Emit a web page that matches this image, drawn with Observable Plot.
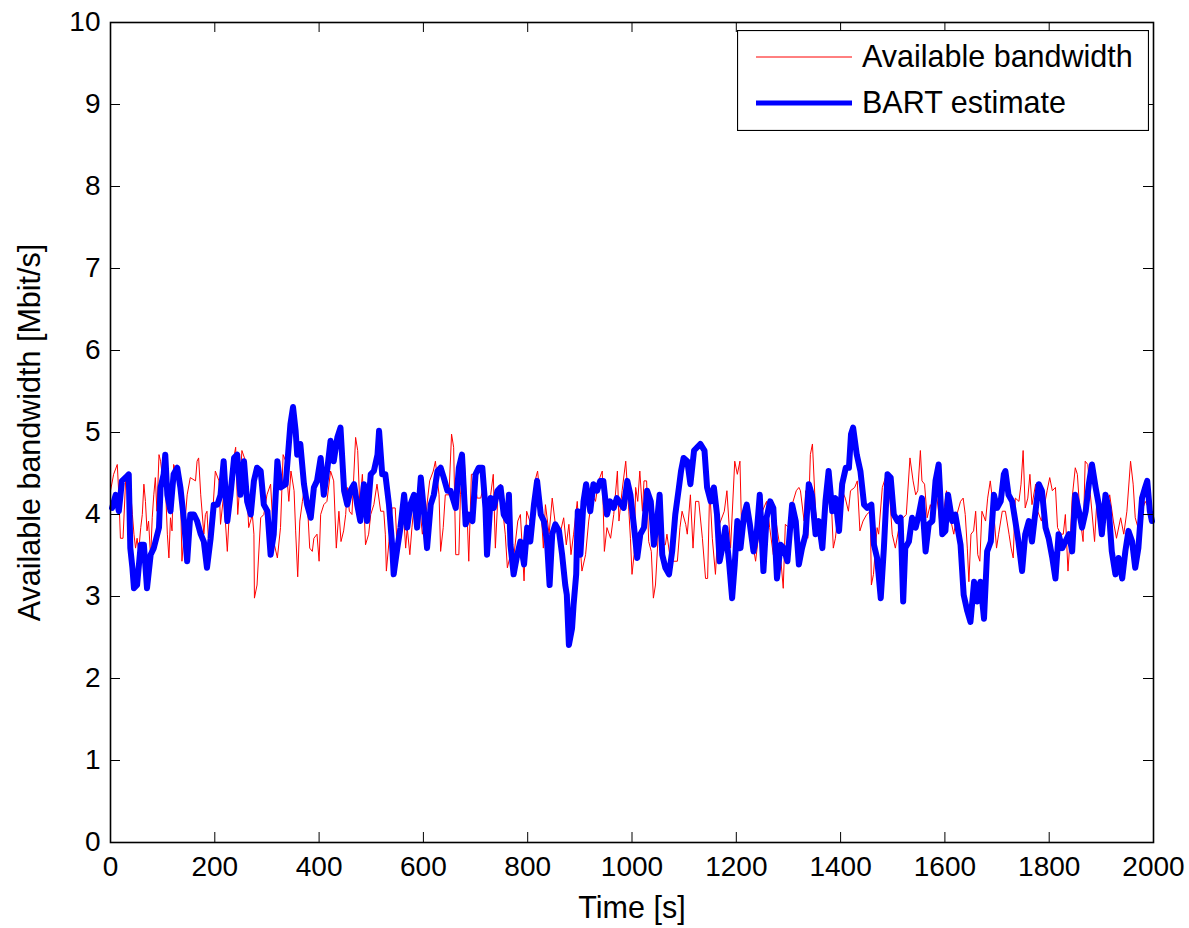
<!DOCTYPE html>
<html><head><meta charset="utf-8">
<script src="https://cdn.jsdelivr.net/npm/d3@7"></script>
<script src="https://cdn.jsdelivr.net/npm/@observablehq/plot@0.6"></script>
<style>
body{margin:0;background:#fff}
#wrap{position:relative;width:1189px;height:928px}
#legend{position:absolute;left:737px;top:30px}
</style>
</head><body><div id="wrap"></div>
<script>
const xTicks = [0,200,400,600,800,1000,1200,1400,1600,1800,2000];
const yTicks = [0,1,2,3,4,5,6,7,8,9,10];
const seriesNames = ["Available bandwidth", "BART estimate"];
const xLabel = "Time [s]";
const yLabel = "Available bandwidth [Mbit/s]";

// [time (s), available bandwidth (Mbit/s)]
const availableBandwidth = [
[0,4.29],[6,4.49],[13,4.61],[16,4.24],[19,3.71],[24,3.71],[29,4.41],[38,4.33],[42,4.0],[45,3.76],
[48,3.59],[51,3.71],[54,3.55],[58,3.84],[61,4.0],[64,4.37],[67,4.16],[70,3.80],[73,3.92],[77,3.47],
[80,3.96],[83,4.24],[86,4.45],[89,4.04],[93,4.73],[96,4.65],[99,4.49],[105,4.41],[109,3.76],[112,3.47],
[115,3.96],[118,3.80],[121,4.61],[128,4.53],[134,4.33],[137,3.43],[141,3.76],[147,4.24],[153,4.45],[163,4.41],
[166,4.65],[169,4.69],[173,4.24],[179,3.76],[182,4.0],[185,4.04],[189,3.55],[195,3.92],[201,4.53],[208,4.41],
[211,3.88],[217,4.24],[224,3.55],[227,3.92],[233,4.57],[240,4.82],[244,4.0],[249,4.45],[252,4.78],[259,4.65],
[265,3.84],[272,4.0],[275,3.76],[276,2.98],[281,3.14],[288,3.96],[294,4.0],[300,4.24],
[307,4.37],[313,3.67],[320,3.47],[326,3.84],[331,4.73],[336,4.65],[342,4.16],[346,4.53],[352,4.29],[355,3.80],
[359,3.24],[363,3.92],[368,4.16],[371,4.29],[377,4.20],[382,3.59],[387,3.55],[390,3.71],[396,3.76],[400,3.43],
[403,4.0],[409,4.12],[415,4.16],[422,4.53],[428,4.41],[433,3.59],[438,4.04],[442,3.67],[447,3.80],[451,4.0],
[454,4.33],[458,4.04],[463,4.0],[470,4.94],[474,4.78],[478,4.12],[483,4.49],[486,4.12],[489,3.63],[495,3.76],
[499,4.0],[505,4.12],[511,4.37],[518,4.04],[524,4.04],[527,3.76],[529,3.31],[534,3.67],[540,4.08],[546,4.08],
[550,3.55],[556,3.71],[562,4.0],[566,3.59],[569,3.84],[574,3.51],[578,3.84],[583,4.16],[588,3.92],[591,4.24],
[598,3.76],[604,3.96],[612,4.41],[619,4.53],[623,4.65],[630,4.24],
[633,3.55],[638,3.84],[642,4.24],[649,4.24],[654,4.98],[658,4.82],[662,3.51],[668,3.51],[671,4.24],[678,4.73],
[684,3.96],[687,3.43],[692,4.49],[697,4.49],[703,4.20],[710,4.20],[716,4.37],[722,3.92],[729,4.24],[734,4.49],
[738,3.59],[743,4.24],[748,4.37],[753,4.0],[757,3.76],[761,3.35],[767,3.51],[773,3.47],[781,3.92],[786,4.0],
[793,3.19],[798,4.04],[804,3.92],[809,3.84],[814,4.41],[819,4.53],[825,4.12],[830,3.59],[834,4.12],[841,3.76],
[847,4.20],[853,3.88],[860,3.71],[869,3.96],[874,3.63],[879,3.88],[883,3.51],[888,3.76],[895,4.16],[900,3.67],
[904,3.31],[911,3.51],[917,3.92],[924,4.24],[930,4.16],[936,4.41],[943,4.53],[947,3.55],[952,3.84],[959,3.71],
[965,4.0],[972,4.53],[975,3.92],[981,4.29],[988,4.65],[994,4.04],[997,3.71],[1000,3.27],[1004,3.51],[1007,4.33],
[1011,4.16],[1015,4.53],[1020,4.04],[1023,4.41],[1028,4.41],[1032,3.67],[1037,3.55],[1041,2.98],[1045,3.14],[1051,3.84],
[1058,3.63],[1064,3.63],[1067,3.76],[1074,3.43],[1079,3.43],[1087,3.43],[1092,3.84],[1096,4.04],[1103,3.88],[1106,3.76],
[1112,4.24],[1117,3.59],[1122,4.16],[1128,4.16],[1135,3.71],[1141,3.22],[1145,3.22],[1149,4.33],[1154,3.71],[1160,3.27],
[1165,3.84],[1170,3.92],[1177,4.04],[1182,4.29],[1189,3.59],[1197,4.65],[1202,4.49],[1207,4.65],[1211,3.59],[1218,4.12],
[1224,3.92],[1230,3.71],[1237,3.43],[1243,3.76],[1250,4.04],[1258,4.16],[1264,3.84],[1271,3.51],[1277,3.88],[1283,3.63],
[1290,3.10],[1294,3.88],[1301,3.84],[1307,4.12],[1315,4.29],[1320,4.33],[1323,4.29],[1330,3.92],[1333,4.29],[1337,3.71],
[1342,4.73],[1346,4.86],[1352,4.04],[1360,3.67],[1367,3.96],[1374,4.08],[1381,4.33],[1386,3.59],[1390,3.71],[1397,4.12],
[1403,4.29],[1409,4.20],[1415,4.04],[1419,4.29],[1427,4.33],[1432,4.41],[1437,3.80],[1443,3.92],[1450,4.0],[1457,4.04],
[1459,3.14],[1463,3.27],[1470,3.84],[1473,3.76],[1480,4.33],[1486,4.45],[1493,4.33],[1499,3.76],[1505,3.59],[1514,3.92],
[1520,3.96],[1526,4.0],[1533,4.69],[1539,4.41],[1544,4.24],[1548,4.29],[1553,4.78],[1556,4.41],[1561,4.37],[1566,3.96],
[1572,4.12],[1578,3.96],[1584,4.24],[1590,3.92],[1597,4.0],[1603,4.29],[1609,4.0],
[1617,3.76],[1623,4.0],[1630,4.16],[1635,4.20],[1639,4.0],[1643,3.59],[1646,3.18],[1650,3.76],[1655,3.80],[1659,4.04],
[1663,3.51],[1667,3.43],[1671,4.04],[1678,3.92],[1682,4.20],[1687,4.41],[1693,4.08],[1699,3.59],[1703,3.76],[1710,4.04],
[1716,4.04],[1723,3.76],[1727,3.59],[1731,3.47],[1735,4.20],[1742,4.16],[1746,4.37],[1750,4.78],[1754,4.08],[1759,4.20],
[1763,4.49],[1767,4.12],[1774,4.37],[1778,4.04],[1785,3.92],[1791,4.12],[1796,4.29],[1801,4.45],[1806,4.29],[1812,4.33],
[1816,3.84],[1822,3.76],[1827,3.76],[1831,4.0],[1836,3.31],[1841,3.80],[1844,4.20],[1850,4.57],[1854,4.49],[1860,3.92],
[1865,3.67],[1869,4.65],[1874,4.61],[1879,4.24],[1887,3.67],[1892,4.24],[1898,4.04],[1905,4.20],[1910,4.04],[1916,4.24],
[1923,3.92],[1929,3.71],[1937,3.96],[1943,3.76],[1949,4.04],[1956,4.65],[1961,4.37],[1965,3.96],[1972,3.80],[1978,4.04],
[1984,4.16],[1991,4.08],[1997,3.92]
];

// [time (s), BART estimate (Mbit/s)]
const bartEstimate = [
[3,4.08],[10,4.24],[16,4.04],[22,4.41],[29,4.45],[35,4.49],[38,3.59],[42,3.35],[45,3.10],[51,3.14],
[58,3.63],[64,3.63],[70,3.10],[77,3.51],[83,3.59],[93,3.84],[96,4.33],[102,4.49],[105,4.73],[109,4.24],
[115,4.04],[121,4.49],[128,4.57],[134,4.33],[141,3.92],[147,3.43],[153,4.0],[160,4.0],[166,3.92],[173,3.76],
[179,3.67],[185,3.35],[192,3.71],[198,4.12],[205,4.12],[211,4.24],[217,4.65],[224,3.92],[230,4.24],[237,4.69],
[243,4.73],[249,4.24],[256,4.65],[262,4.16],[269,4.0],[275,4.41],[281,4.57],[288,4.53],[294,4.12],[301,4.04],
[307,3.51],[313,3.76],[320,4.65],
[326,4.33],[336,4.37],[342,4.86],[345,5.10],[350,5.31],[355,5.02],[358,4.73],[364,4.86],[371,4.37],[377,4.12],
[384,3.96],[390,4.33],[396,4.41],[403,4.69],[409,4.24],[416,4.57],[422,4.90],[428,4.65],[435,4.94],[441,5.06],
[448,4.29],[454,4.12],[460,4.29],[467,4.37],[473,4.12],[479,3.92],[486,4.37],[492,3.92],[499,4.49],[505,4.53],
[512,4.73],[515,5.02],[521,4.49],[527,4.49],[534,4.12],[540,3.63],[543,3.27],[550,3.59],[556,3.84],[563,4.24],
[569,3.84],[575,4.12],[582,4.24],[588,3.84],[595,4.45],[601,4.04],[607,3.59],[614,4.12],[620,4.24],[627,4.53],
[633,4.57],
[639,4.45],[646,4.29],[652,4.29],[662,4.08],[668,4.57],[674,4.73],[681,3.88],[687,4.0],[694,3.92],[700,4.49],
[706,4.57],[713,4.57],[719,4.08],[722,3.51],[729,4.20],[735,4.08],[742,4.29],[748,4.33],[754,4.0],[761,3.92],
[764,4.24],[767,3.63],[773,3.27],[780,3.51],[786,3.67],[793,3.39],[799,3.84],[805,3.67],[812,4.12],[818,4.41],
[825,4.0],[831,3.92],[837,3.67],[842,3.14],[847,3.76],[853,3.88],[860,3.80],[866,3.51],[872,3.14],[875,3.02],
[879,2.41],[885,2.61],[888,2.90],[893,3.27],[896,4.04],[901,3.51],[907,4.16],[912,4.37],[920,4.04],[926,4.37],
[933,4.29],[939,4.41],[945,4.41],[952,4.0],[958,4.16],
[965,4.08],[971,4.20],[984,4.08],[991,4.41],[997,4.24],[1004,3.84],[1010,3.47],[1016,3.76],[1023,3.84],[1029,4.29],
[1036,4.16],[1042,3.63],[1048,3.92],[1053,4.24],[1058,3.51],[1064,3.35],[1071,3.27],[1077,3.55],[1083,4.0],[1090,4.33],
[1094,4.53],[1099,4.69],[1106,4.65],[1112,4.37],[1119,4.78],[1125,4.82],[1131,4.86],[1139,4.78],[1144,4.33],[1151,4.16],
[1157,4.33],[1163,4.0],[1168,3.43],[1173,3.59],[1179,3.84],[1186,3.43],[1192,2.98],[1197,3.39],[1202,3.92],[1208,3.59],
[1215,4.0],[1220,4.12],[1226,3.88],[1233,3.55],[1239,3.76],[1245,4.24],[1252,3.31],[1258,3.96],[1265,4.16],[1271,4.08],
[1278,3.22],[1285,3.63],
[1291,3.59],[1298,3.43],[1307,4.12],[1314,3.92],[1320,3.39],[1326,3.59],[1333,3.76],[1339,4.37],[1345,4.24],[1352,3.76],
[1358,3.92],[1365,3.59],[1371,4.16],[1377,4.53],[1384,4.04],[1390,4.20],[1397,3.80],[1403,4.37],[1410,4.57],[1416,4.57],
[1420,4.98],[1424,5.06],[1431,4.73],[1438,4.53],[1445,4.12],[1451,4.08],[1459,4.12],[1464,3.63],[1470,3.47],[1477,2.98],
[1483,3.59],[1490,4.49],[1496,4.45],[1502,4.0],[1509,3.92],[1515,3.96],[1520,2.94],[1524,3.59],[1531,3.67],[1537,3.96],
[1544,3.84],[1550,4.0],[1556,4.20],[1563,3.55],[1569,3.88],[1576,3.92],[1582,4.41],[1588,4.61],[1595,3.76],[1601,3.80],
[1606,4.24],[1614,3.92],
[1620,4.0],[1630,3.63],[1636,3.02],[1643,2.82],[1649,2.69],[1656,3.18],[1662,2.94],[1668,3.18],[1675,2.73],[1681,3.55],
[1688,3.67],[1694,4.24],[1700,4.08],[1707,4.16],[1713,4.49],[1716,4.53],[1722,4.24],[1729,4.16],[1735,3.92],[1741,3.67],
[1748,3.31],[1754,3.76],[1761,3.92],[1767,3.67],[1773,4.0],[1780,4.37],[1786,4.29],[1793,3.84],[1799,3.71],[1806,3.47],
[1812,3.22],[1818,3.76],[1825,3.59],[1831,3.67],[1838,3.76],[1844,3.55],[1850,4.24],[1857,4.04],[1863,3.84],[1870,4.04],
[1876,4.37],[1882,4.61],[1889,4.33],[1895,4.12],[1901,3.76],[1908,4.24],[1914,4.08],[1920,3.55],[1927,3.27],[1933,3.47],
[1940,3.22],[1946,3.55],[1952,3.80],[1959,3.67],[1965,3.35],[1971,3.59],[1978,4.20],[1984,4.33],[1988,4.41],[1993,4.04],
[1997,3.92]
];

const W = 1189, H = 928, ML = 110, MR = 36, MT = 22, MB = 86;
const FW = W - ML - MR, FH = H - MT - MB;
const TICK = 10;
const font = "'Liberation Sans', Arial, Helvetica, sans-serif";

const chart = Plot.plot({
  width: W, height: H,
  marginLeft: ML, marginRight: MR, marginTop: MT, marginBottom: MB,
  style: {fontFamily: font, background: "white", color: "black"},
  x: {domain: [0, 2000]},
  y: {domain: [0, 10]},
  marks: [
    Plot.lineY(availableBandwidth, {x: d => d[0], y: d => d[1], stroke: "#ff0000", strokeWidth: 1}),
    Plot.lineY(bartEstimate, {x: d => d[0], y: d => d[1], stroke: "#0000ff", strokeWidth: 6, strokeLinejoin: "round", strokeLinecap: "round"}),
    Plot.tickX(xTicks, {x: d => d, insetTop: FH - TICK, stroke: "black", strokeWidth: 1}),
    Plot.tickX(xTicks, {x: d => d, insetBottom: FH - TICK, stroke: "black", strokeWidth: 1}),
    Plot.tickY(yTicks, {y: d => d, insetRight: FW - TICK, stroke: "black", strokeWidth: 1}),
    Plot.tickY(yTicks, {y: d => d, insetLeft: FW - TICK, stroke: "black", strokeWidth: 1}),
    Plot.frame({stroke: "black", strokeWidth: 1.6}),
    Plot.axisX({ticks: xTicks, tickSize: 0, tickPadding: 14, fontSize: 28, label: null, tickFormat: d => String(d)}),
    Plot.axisY({ticks: yTicks, tickSize: 0, tickPadding: 10, fontSize: 28, label: null, tickFormat: d => String(d)}),
    Plot.text([xLabel], {text: d => d, frameAnchor: "bottom", dy: 66, fontSize: 30.5, textAnchor: "middle", lineAnchor: "middle", fill: "black"}),
    Plot.text([yLabel], {text: d => d, frameAnchor: "left", dx: -80, rotate: -90, fontSize: 30.5, textAnchor: "middle", lineAnchor: "middle", fill: "black"})
  ]
});

const wrap = document.getElementById("wrap");
wrap.append(chart);

// Legend (overlay box, top-right inside the axes)
const lg = d3.create("svg").attr("id", "legend").attr("width", 412).attr("height", 101)
  .style("font-family", font);
lg.append("rect").attr("x", 0.5).attr("y", 0.5).attr("width", 411).attr("height", 100)
  .attr("fill", "white").attr("stroke", "black").attr("stroke-width", 1.2);
const legendStyles = [{stroke: "#ff0000", width: 1}, {stroke: "#0000ff", width: 5}];
seriesNames.forEach((name, i) => {
  const yy = 27 + i * 46;
  lg.append("line").attr("x1", 19).attr("x2", 115).attr("y1", yy).attr("y2", yy)
    .attr("stroke", legendStyles[i].stroke).attr("stroke-width", legendStyles[i].width);
  lg.append("text").attr("x", 125).attr("y", yy + 10).attr("font-size", 30.5).attr("fill", "black").text(name);
});
wrap.append(lg.node());
</script>
</body></html>
